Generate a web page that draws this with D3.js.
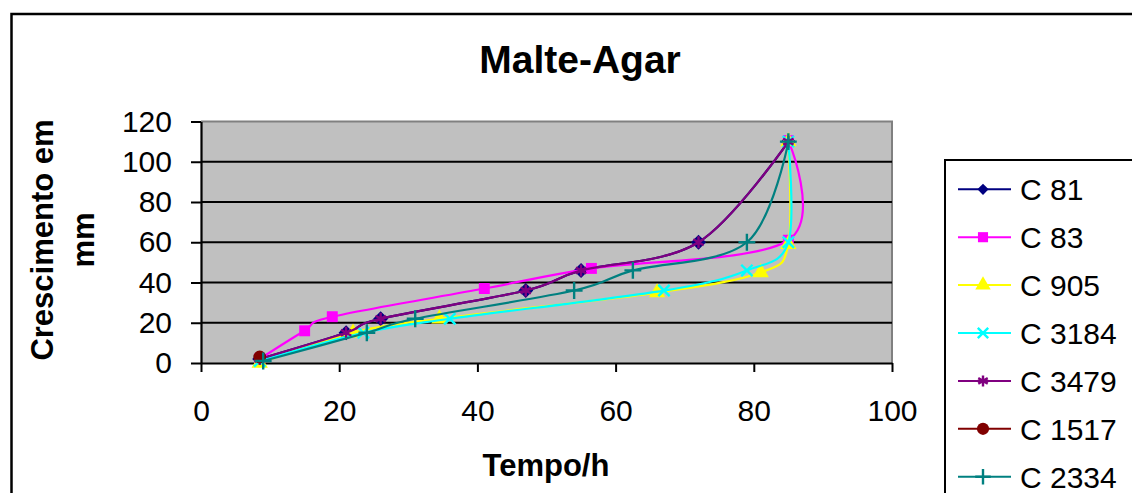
<!DOCTYPE html>
<html>
<head>
<meta charset="utf-8">
<script src="https://cdn.jsdelivr.net/npm/d3@7"></script>
<style>
    body { margin: 0; background: #fff; }
    svg { display: block; font-family: 'Liberation Sans', Arial, sans-serif; }
</style>
</head>
<body>
<svg id="chart"></svg>
<script>
// values
const seriesNames = ['C 81', 'C 83', 'C 905', 'C 3184', 'C 3479', 'C 1517', 'C 2334'];

const hoursC81 = [8.5, 21, 26, 47, 55, 72, 85];
const growthC81 = [2, 15, 22, 36, 46, 60, 110];
const hoursC83 = [8.5, 15, 19, 41, 56.5, 85, 85];
const growthC83 = [2, 16, 23, 37, 47, 61, 110.5];
const hoursC905 = [8.5, 22, 34.5, 66, 81, 85, 85];
const growthC905 = [0, 15, 22, 35, 45, 59, 110];
const hoursC3184 = [8.5, 23.5, 36, 67, 79, 85, 85];
const growthC3184 = [1, 15, 22, 36, 46, 60, 110];
const hoursC3479 = [8.5, 21, 26, 47, 55, 72, 85];
const growthC3479 = [2, 15, 22, 36, 46, 60, 110];
const hoursC1517 = [8.5];
const growthC1517 = [3];
const hoursC2334 = [9, 24, 31, 54, 62.5, 79, 85];
const growthC2334 = [1, 15, 22, 36, 46, 60, 110];

const xTicks = [0, 20, 40, 60, 80, 100];
const yTicks = [0, 20, 40, 60, 80, 100, 120];

class Chart {
    constructor() {
        this.width = 1132;
        this.height = 493;
        this.plot = { left: 201, right: 892, top: 121.5, bottom: 363 };
        this.colors = ['#000080', '#FF00FF', '#FFFF00', '#00FFFF', '#800080', '#800000', '#008080'];
        this.symbols = [
            { type: d3.symbolDiamond2 || d3.symbolDiamond, size: 145, fill: true },
            { type: d3.symbolSquare, size: 120, fill: true },
            { type: d3.symbolTriangle, size: 115, fill: true },
            { type: d3.symbolTimes, size: 85, fill: false },
            { type: d3.symbolAsterisk, size: 100, fill: false },
            { type: d3.symbolCircle, size: 130, fill: true },
            { type: d3.symbolPlus, size: 95, fill: false }
        ];
        this.legendScale = [0.55, 0.85, 0.9, 0.85, 0.85, 0.9, 0.85];
        this.series = [
            [hoursC81, growthC81],
            [hoursC83, growthC83],
            [hoursC905, growthC905],
            [hoursC3184, growthC3184],
            [hoursC3479, growthC3479],
            [hoursC1517, growthC1517],
            [hoursC2334, growthC2334]
        ].map(([xs, ys], i) => ({
            name: seriesNames[i],
            points: xs.map((x, j) => ({ x: x, y: ys[j] }))
        }));
        this.draw();
    }
    marker(sel, i, k = 1) {
        const s = this.symbols[i];
        sel.attr('d', d3.symbol().type(s.type).size(s.size * k))
            .attr('fill', s.fill ? this.colors[i] : 'none')
            .attr('stroke', this.colors[i])
            .attr('stroke-width', s.fill ? 0 : 2.4);
    }
    draw() {
        const p = this.plot;
        const svg = d3.select('#chart')
            .attr('width', this.width)
            .attr('height', this.height);

        // outer chart frame (runs off the right and bottom edges)
        svg.append('rect')
            .attr('x', 11.5).attr('y', 14)
            .attr('width', 1200).attr('height', 600)
            .attr('fill', 'none').attr('stroke', '#000').attr('stroke-width', 2.5);

        const xScale = d3.scaleLinear().domain([0, 100]).range([p.left, p.right]);
        const yScale = d3.scaleLinear().domain([0, 120]).range([p.bottom, p.top]);

        svg.append('rect')
            .attr('x', p.left).attr('y', p.top)
            .attr('width', p.right - p.left).attr('height', p.bottom - p.top)
            .attr('fill', '#C0C0C0');
        svg.append('path')
            .attr('d', `M${p.left},${p.top}H${p.right}V${p.bottom}`)
            .attr('fill', 'none').attr('stroke', '#808080').attr('stroke-width', 2);

        svg.append('g')
            .selectAll('line')
            .data(yTicks.filter(v => v > 0 && v < 120))
            .enter()
            .append('line')
            .attr('x1', p.left).attr('x2', p.right)
            .attr('y1', d => yScale(d)).attr('y2', d => yScale(d))
            .attr('stroke', '#000').attr('stroke-width', 1.8);

        const xAxis = svg.append('g')
            .attr('transform', `translate(0, ${p.bottom})`)
            .call(d3.axisBottom(xScale).tickValues(xTicks).tickSize(9).tickSizeOuter(0).tickPadding(28));
        const yAxis = svg.append('g')
            .attr('transform', `translate(${p.left}, 0)`)
            .call(d3.axisLeft(yScale).tickValues(yTicks).tickSize(10).tickSizeOuter(0).tickPadding(19));
        [xAxis, yAxis].forEach(a => {
            a.select('.domain').attr('stroke-width', 2.2);
            a.selectAll('.tick line').attr('stroke-width', 2);
            a.selectAll('text')
                .attr('font-family', "'Liberation Sans', Arial, sans-serif")
                .attr('font-size', 30)
                .attr('fill', '#000');
        });

        const line = d3.line()
            .x(d => xScale(d.x))
            .y(d => yScale(d.y))
            .curve(d3.curveCardinal.tension(0));

        this.series.forEach((s, i) => {
            const g = svg.append('g');
            if (s.points.length > 1) {
                g.append('path')
                    .attr('d', line(s.points))
                    .attr('fill', 'none')
                    .attr('stroke', this.colors[i])
                    .attr('stroke-width', 2.2);
            }
            g.selectAll('path.pt')
                .data(s.points)
                .enter()
                .append('path')
                .attr('class', 'pt')
                .attr('transform', d => `translate(${xScale(d.x)}, ${yScale(d.y)})`)
                .call(sel => this.marker(sel, i));
        });

        svg.append('text')
            .attr('x', 580).attr('y', 73)
            .attr('text-anchor', 'middle')
            .attr('font-size', 39).attr('font-weight', 'bold')
            .text('Malte-Agar');
        svg.append('text')
            .attr('x', 546).attr('y', 476)
            .attr('text-anchor', 'middle')
            .attr('font-size', 31).attr('font-weight', 'bold')
            .text('Tempo/h');
        const yTitle = svg.append('text')
            .attr('transform', 'translate(42, 240) rotate(-90)')
            .attr('text-anchor', 'middle')
            .attr('font-size', 31).attr('font-weight', 'bold');
        yTitle.append('tspan').attr('x', 0).attr('y', 11).text('Crescimento em');
        yTitle.append('tspan').attr('x', 0).attr('y', 52).text('mm');

        // legend box, also cut by the picture edge
        const legend = svg.append('g');
        legend.append('rect')
            .attr('x', 945).attr('y', 160)
            .attr('width', 300).attr('height', 400)
            .attr('fill', '#fff').attr('stroke', '#000').attr('stroke-width', 2);
        const items = legend.selectAll('g.item')
            .data(this.series)
            .enter()
            .append('g')
            .attr('class', 'item')
            .attr('transform', (d, i) => `translate(0, ${189.3 + i * 47.9})`);
        items.append('line')
            .attr('x1', 958).attr('x2', 1011)
            .attr('stroke', (d, i) => this.colors[i])
            .attr('stroke-width', 2);
        items.each((d, i, nodes) => {
            d3.select(nodes[i]).append('path')
                .attr('transform', 'translate(983, 0)')
                .call(sel => this.marker(sel, i, this.legendScale[i]));
        });
        items.append('text')
            .attr('x', 1020).attr('y', 11)
            .attr('font-size', 30)
            .text(d => d.name);
    }
}

document.body.onload = () => {
    new Chart();
};
</script>
</body>
</html>
